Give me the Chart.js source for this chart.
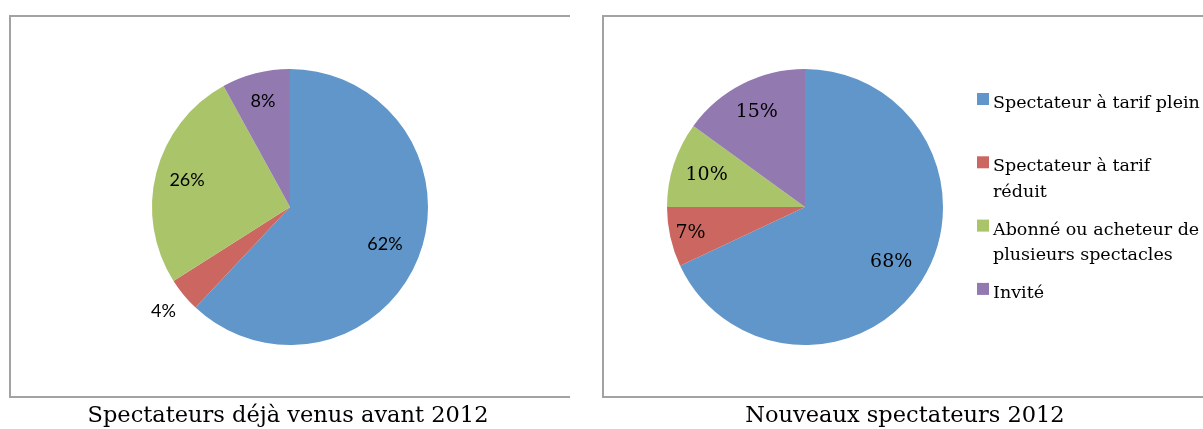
<!DOCTYPE html>
<html><head><meta charset="utf-8">
<script src="https://cdn.jsdelivr.net/npm/chart.js@4/dist/chart.umd.min.js"></script>
<style>
html,body{margin:0;padding:0;background:#fff;width:1203px;height:429px;overflow:hidden;position:relative}
.box{position:absolute;border:2px solid #a2a2a2;box-sizing:border-box}
#boxL{left:9px;top:15px;width:561px;height:383px;border-right:none}
#boxR{left:602px;top:15px;width:700px;height:383px;border-right:none}
canvas{position:absolute;top:0}
#cL{left:0}
#cR{left:600px}
.title{position:absolute;top:403px;font-family:"DejaVu Serif";font-size:22.5px;color:#000;white-space:nowrap;transform:translateX(-50%);line-height:1}
</style></head>
<body>
<div class="box" id="boxL"></div>
<div class="box" id="boxR"></div>
<canvas id="cL" width="600" height="429"></canvas>
<canvas id="cR" width="603" height="429"></canvas>
<div class="title" style="left:288px">Spectateurs déjà venus avant 2012</div>
<div class="title" style="left:905px">Nouveaux spectateurs 2012</div>
<script>
// ---- data ----
const categories = ["Spectateur à tarif plein", "Spectateur à tarif réduit", "Abonné ou acheteur de plusieurs spectacles", "Invité"];
const valuesAvant2012 = [62, 4, 26, 8];
const valuesNouveaux2012 = [68, 7, 10, 15];

// ---- styles ----
const sliceColors = ["#6096c9", "#cc6660", "#aac46a", "#9279b0"];

const sliceLabelPlugin = {
  id: 'sliceLabels',
  afterDatasetsDraw(chart, args, o) {
    const ctx = chart.ctx;
    const meta = chart.getDatasetMeta(0);
    const ds = chart.data.datasets[0];
    ctx.save();
    ctx.font = o.font;
    ctx.fillStyle = o.color;
    ctx.textAlign = 'center';
    ctx.textBaseline = 'middle';
    meta.data.forEach((arc, i) => {
      const p = arc.getProps(['x', 'y', 'startAngle', 'endAngle', 'outerRadius'], true);
      const mid = (p.startAngle + p.endAngle) / 2;
      const r = p.outerRadius * o.radii[i];
      ctx.fillText(ds.data[i] + '%', p.x + Math.cos(mid) * r, p.y + Math.sin(mid) * r);
    });
    ctx.restore();
  }
};

function wrapText(ctx, text, maxWidth) {
  const words = text.split(' ');
  const lines = [];
  let cur = '';
  words.forEach(w => {
    const t = cur ? cur + ' ' + w : w;
    if (cur && ctx.measureText(t).width > maxWidth) { lines.push(cur); cur = w; }
    else cur = t;
  });
  if (cur) lines.push(cur);
  return lines;
}

const sideLegendPlugin = {
  id: 'sideLegend',
  afterDraw(chart, args, o) {
    if (!o.show) return;
    const ctx = chart.ctx;
    ctx.save();
    ctx.font = o.font;
    ctx.textAlign = 'left';
    ctx.textBaseline = 'alphabetic';
    chart.data.labels.forEach((lab, i) => {
      const base = o.baseline + i * o.pitch;
      ctx.fillStyle = chart.data.datasets[0].backgroundColor[i];
      ctx.fillRect(o.x, base - 15, o.box, o.box);
      ctx.fillStyle = o.color;
      wrapText(ctx, lab, o.maxWidth).forEach((ln, j) => {
        ctx.fillText(ln, o.x + o.box + o.gap, base + j * o.lineHeight);
      });
    });
    ctx.restore();
  }
};

function makePie(id, values, padding, labelOpts, legendOpts) {
  return new Chart(document.getElementById(id), {
    type: 'pie',
    data: {
      labels: categories,
      datasets: [{ data: values, backgroundColor: sliceColors, borderWidth: 0 }]
    },
    options: {
      responsive: false,
      animation: false,
      layout: { padding: padding },
      plugins: {
        legend: { display: false },
        tooltip: { enabled: false },
        sliceLabels: labelOpts,
        sideLegend: legendOpts
      }
    },
    plugins: [sliceLabelPlugin, sideLegendPlugin]
  });
}

makePie('cL', valuesAvant2012,
  { left: 152, top: 69, right: 172, bottom: 84 },
  { font: '18px Lato', color: '#000', radii: [0.74, 1.19, 0.77, 0.79] },
  { show: false });

makePie('cR', valuesNouveaux2012,
  { left: 67, top: 69, right: 260, bottom: 84 },
  { font: '19px "DejaVu Serif"', color: '#000', radii: [0.74, 0.85, 0.75, 0.77] },
  { show: true, font: '17.5px "DejaVu Serif"', color: '#000', x: 377, box: 12, gap: 4,
    baseline: 108, pitch: 63.3, lineHeight: 25.5, maxWidth: 211 });
</script>
</body></html>
